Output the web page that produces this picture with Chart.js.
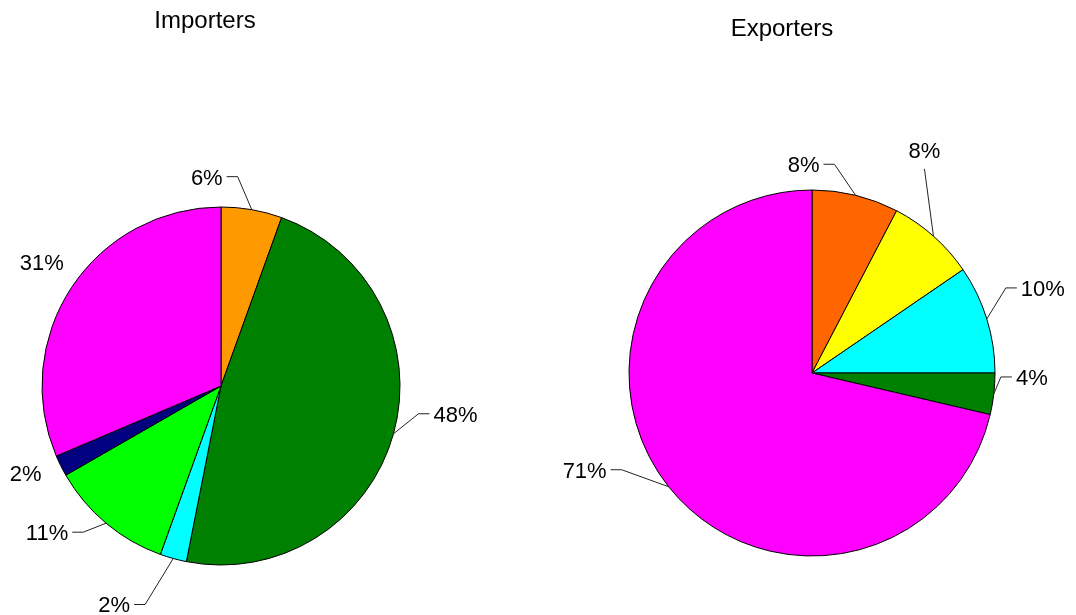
<!DOCTYPE html>
<html>
<head>
<meta charset="utf-8">
<script src="https://cdn.jsdelivr.net/npm/chart.js@4.4.0/dist/chart.umd.min.js"></script>
<style>
  body { margin: 0; background: #fff; }
  #wrap { position: relative; width: 1076px; height: 615px; }
  #wrap canvas { position: absolute; left: 0; top: 0; }
</style>
</head>
<body>
<div id="wrap">
  <canvas id="importersChart" width="1076" height="615"></canvas>
  <canvas id="exportersChart" width="1076" height="615"></canvas>
</div>
<script>
// Data (percent shares, clockwise from 12 o'clock)
const importerGroups = ["Group A", "Group B", "Group C", "Group D", "Group E", "Group F"];
const importerShares = [5.5, 47.6, 2.4, 11.2, 1.9, 31.4];
const exporterGroups = ["Group A", "Group B", "Group C", "Group D", "Group E"];
const exporterShares = [7.65, 7.8, 9.55, 3.65, 71.35];

const importerColors = ["#FF9900", "#008000", "#00FFFF", "#00FF00", "#000080", "#FF00FF"];
const exporterColors = ["#FF6600", "#FFFF00", "#00FFFF", "#008000", "#FF00FF"];

// label text centre relative to the slice's arc midpoint, and leader style
const importerLabelPlacement = [
  [-45, -33, "side"], [62, -20, "side"], [-59, 46, "side"],
  [-59, 9, "side"], [-35, 7, null], [-30, -25, null]
];
const exporterLabelPlacement = [
  [-52, -31, "side"], [-9, -86, "below"], [56, -31, "side"],
  [38, -17, "side"], [-84, -17, "side"]
];

const LABEL_SIZE = 22;
const TITLE_SIZE = 24;
const FONT_FAMILY = '"Liberation Sans", Arial, sans-serif';

const sliceLabels = {
  id: "sliceLabels",
  afterDraw(chart, args, opts) {
    const ctx = chart.ctx;
    const meta = chart.getDatasetMeta(0);
    const values = chart.data.datasets[0].data;
    const total = values.reduce((a, b) => a + b, 0);
    ctx.save();
    ctx.fillStyle = "#000";
    ctx.textBaseline = "alphabetic";
    ctx.textAlign = "center";
    ctx.font = TITLE_SIZE + "px " + FONT_FAMILY;
    ctx.fillText(opts.title, opts.titleX, opts.titleY);

    ctx.font = LABEL_SIZE + "px " + FONT_FAMILY;
    ctx.strokeStyle = "#222";
    ctx.lineWidth = 1;
    meta.data.forEach((arc, i) => {
      const p = arc.getProps(["x", "y", "startAngle", "endAngle", "outerRadius"], true);
      const mid = (p.startAngle + p.endAngle) / 2;
      const ax = p.x + Math.cos(mid) * p.outerRadius;
      const ay = p.y + Math.sin(mid) * p.outerRadius;
      const [dx, dy, leader] = opts.placement[i];
      const tx = ax + dx, ty = ay + dy;
      const text = Math.round(values[i] / total * 100) + "%";
      const w = ctx.measureText(text).width;
      ctx.fillText(text, tx, ty + 0.36 * LABEL_SIZE);

      if (leader === "side") {
        const dir = dx < 0 ? 1 : -1;
        const sx = tx + dir * (w / 2 + 4);
        const ex = sx + dir * 11;
        ctx.beginPath();
        ctx.moveTo(sx, ty);
        ctx.lineTo(ex, ty);
        ctx.lineTo(ax, ay);
        ctx.stroke();
      } else if (leader === "below") {
        ctx.beginPath();
        ctx.moveTo(tx, ty + LABEL_SIZE * 0.85);
        ctx.lineTo(ax, ay);
        ctx.stroke();
      }
    });
    ctx.restore();
  }
};

function makePie(canvasId, groups, shares, colors, placement, title, titleX, titleY, cx, cy, r) {
  const size = 2 * r + 1;
  const left = cx - size / 2, top = cy - size / 2;
  try {
    return new Chart(document.getElementById(canvasId).getContext("2d"), {
      type: "pie",
      data: {
        labels: groups,
        datasets: [{
          data: shares,
          backgroundColor: colors,
          borderColor: "#000",
          borderWidth: 1,
        }],
      },
      options: {
        responsive: false,
        animation: false,
        layout: {
          padding: { left: left, top: top, right: 1076 - left - size, bottom: 615 - top - size }
        },
        plugins: {
          legend: { display: false },
          tooltip: { enabled: false },
          sliceLabels: { placement, title, titleX, titleY },
        },
      },
      plugins: [sliceLabels],
    });
  } catch (error) {
    console.error("Error initializing " + title + " chart:", error);
  }
}

makePie("importersChart", importerGroups, importerShares, importerColors,
  importerLabelPlacement, "Importers", 205, 28, 221, 386, 179);
makePie("exportersChart", exporterGroups, exporterShares, exporterColors,
  exporterLabelPlacement, "Exporters", 782, 36, 812, 373, 183);
</script>
</body>
</html>
